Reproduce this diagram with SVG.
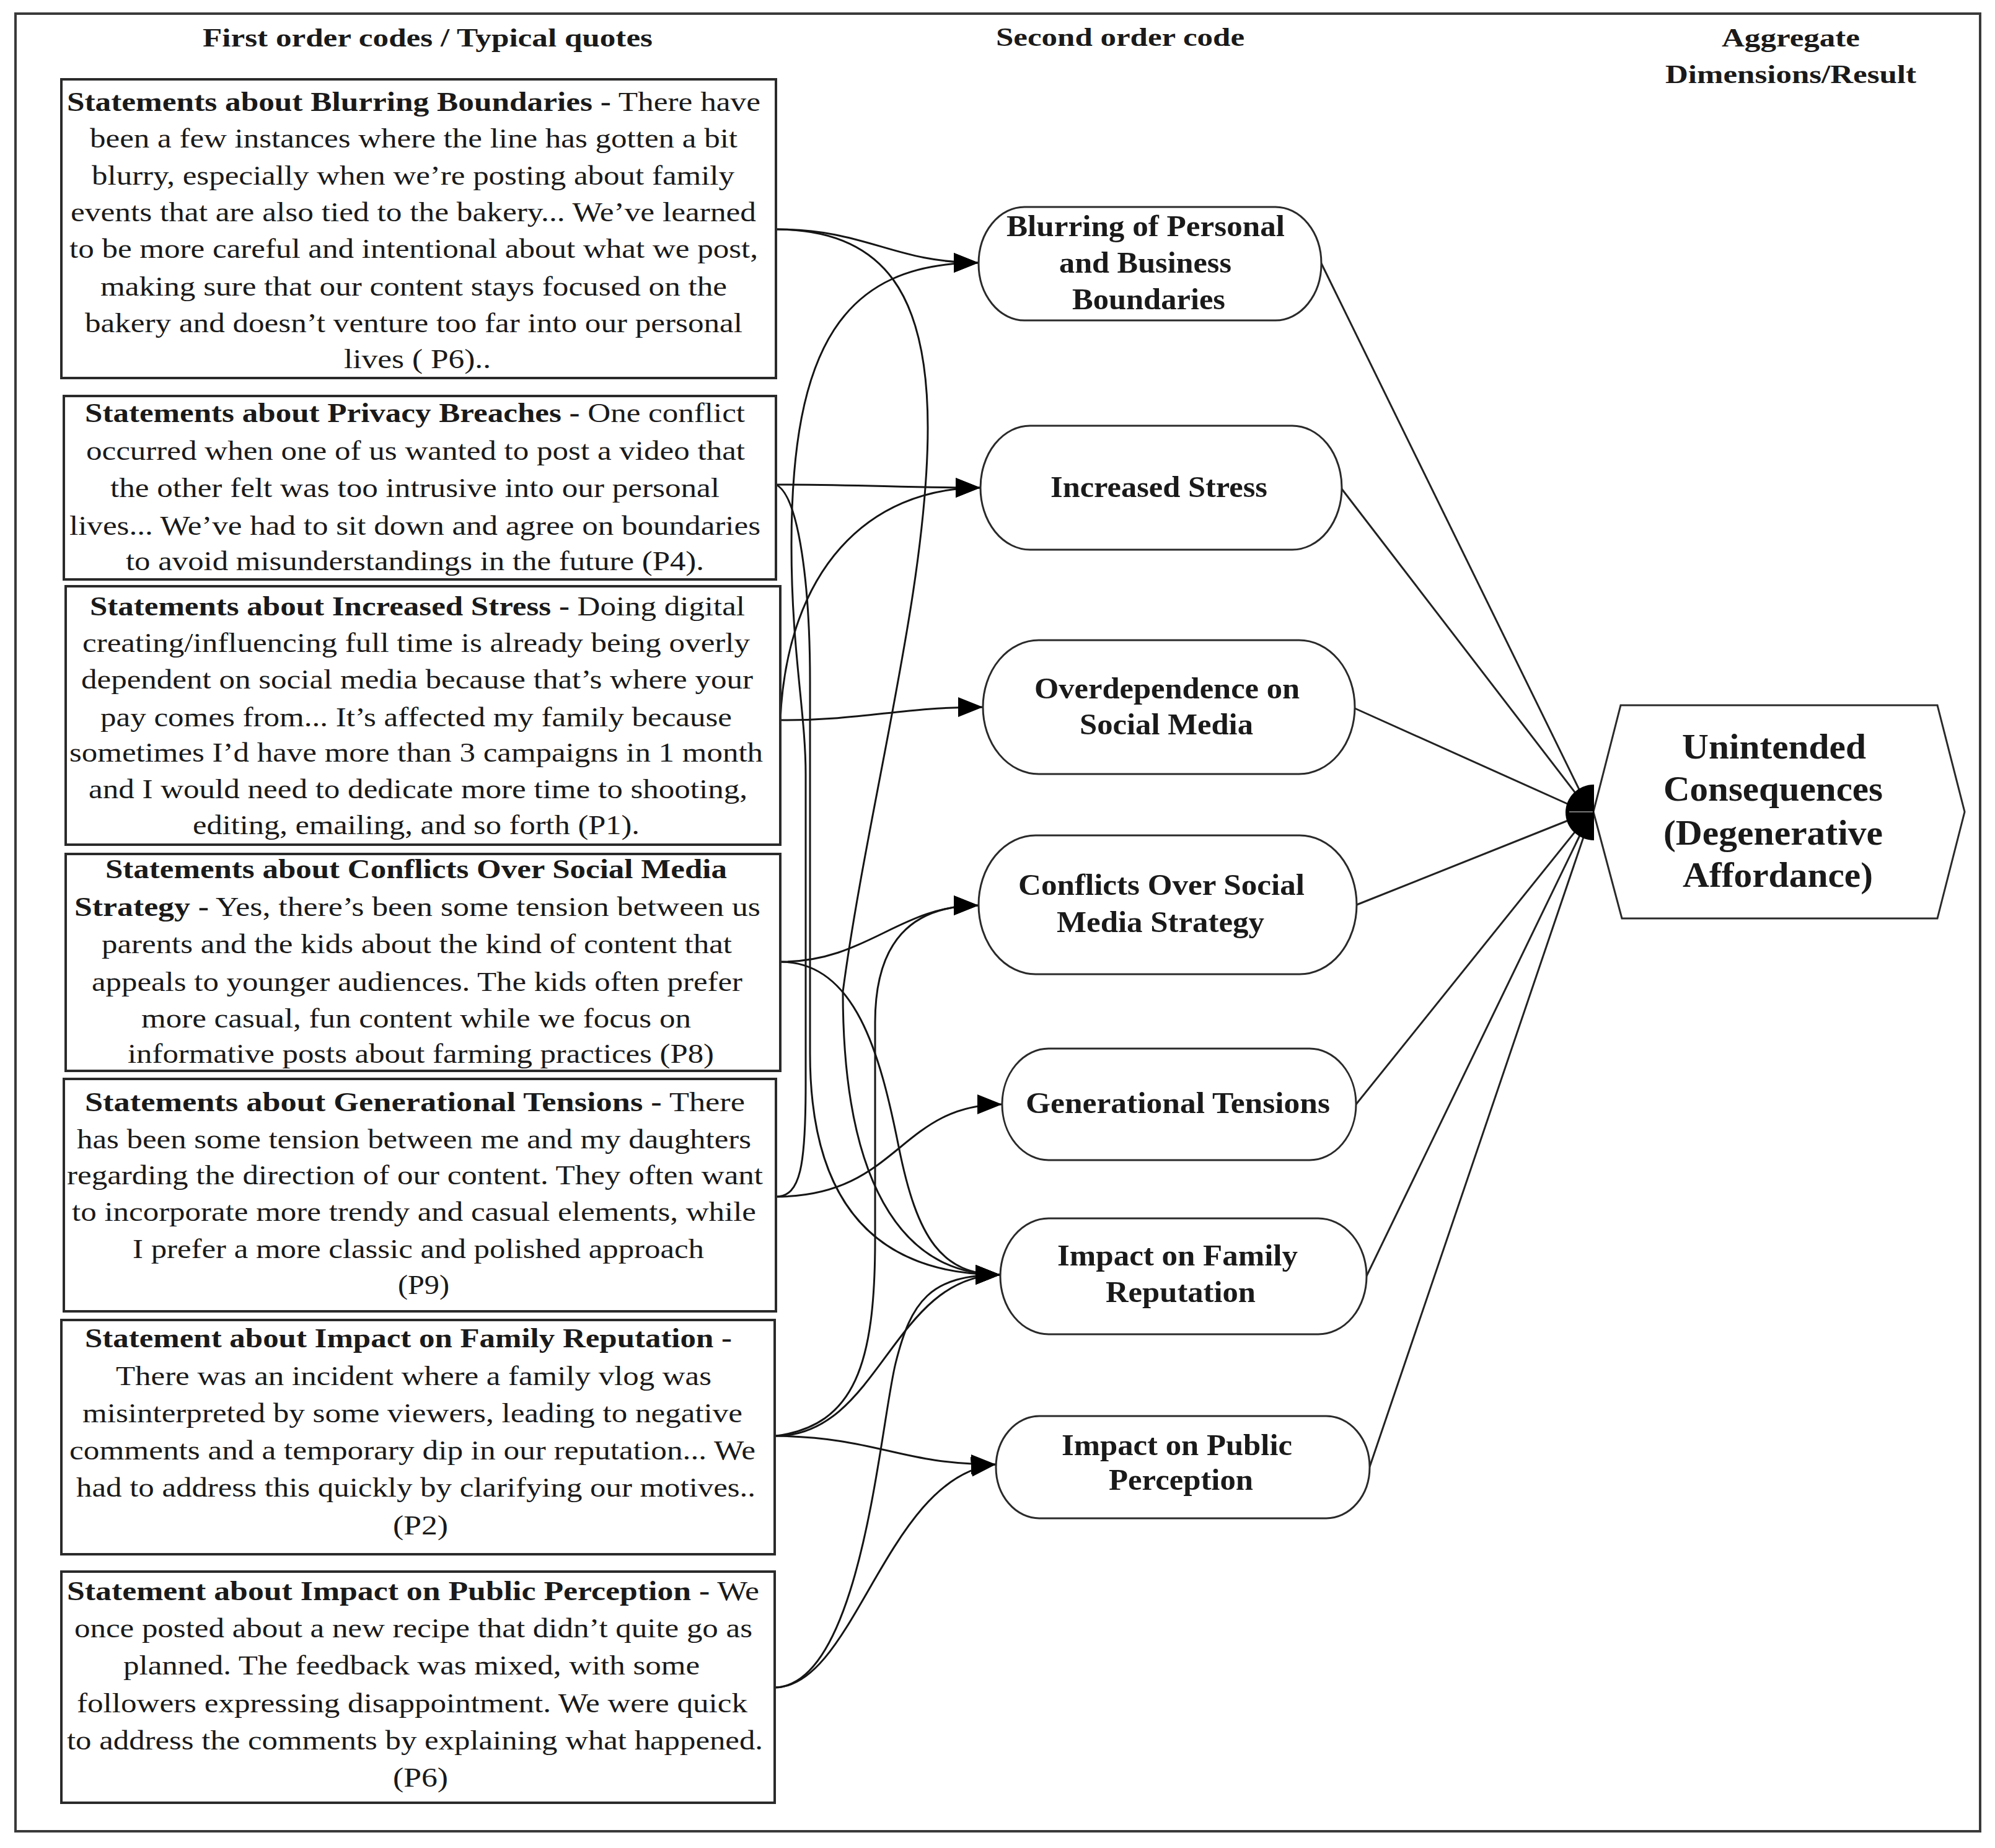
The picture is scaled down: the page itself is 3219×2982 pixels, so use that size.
<svg xmlns="http://www.w3.org/2000/svg" width="3219" height="2982" viewBox="0 0 3219 2982">
<defs>
<style>
.frame{fill:none;stroke:#3a3a3a;stroke-width:4}
.box rect{fill:#fff;stroke:#2a2a2a;stroke-width:4}
.t{font-family:"Liberation Serif","Times New Roman",serif;font-size:44px;fill:#1a1a1a}
.b{font-weight:bold}
.hd{font-family:"Liberation Serif","Times New Roman",serif;font-size:42px;font-weight:bold;fill:#1a1a1a}
.node rect{fill:#fff;stroke:#2a2a2a;stroke-width:3}
.nt{font-family:"Liberation Serif","Times New Roman",serif;font-size:48px;font-weight:bold;fill:#1a1a1a}
.ht{font-family:"Liberation Serif","Times New Roman",serif;font-size:58px;font-weight:bold;fill:#1a1a1a}
.edge{fill:none;stroke:#151515;stroke-width:3}
.link{fill:none;stroke:#222;stroke-width:3}
</style>
<marker id="arr" markerUnits="userSpaceOnUse" markerWidth="40" markerHeight="32" refX="40" refY="16" orient="auto">
<path d="M0,0 L40,16 L0,32 Z" fill="#000"/>
</marker>
</defs>
<rect width="3219" height="2982" fill="#fff"/>
<rect class="frame" x="25" y="22" width="3170" height="2933"/>

<g id="headers">
<text class="hd" x="327" y="75" textLength="726" lengthAdjust="spacingAndGlyphs">First order codes / Typical quotes</text>
<text class="hd" x="1607" y="74" textLength="401" lengthAdjust="spacingAndGlyphs">Second order code</text>
<text class="hd" x="2778" y="75" textLength="223" lengthAdjust="spacingAndGlyphs">Aggregate</text>
<text class="hd" x="2687" y="134" textLength="405" lengthAdjust="spacingAndGlyphs">Dimensions/Result</text>
</g>

<g id="connectors">
<path class="edge" marker-end="url(#arr)" d="M1252,370 C1400,370 1440,424 1579,424"/>
<path class="edge" marker-end="url(#arr)" d="M1252,370 C1430,370 1497,480 1497,690 C1497,950 1400,1300 1360,1600 C1360,1900 1450,2057 1614,2057"/>
<path class="edge" marker-end="url(#arr)" d="M1252,782 C1400,782 1450,787 1582,787"/>
<path class="edge" marker-end="url(#arr)" d="M1252,782 C1290,800 1307,950 1307,1100 L1307,1700 C1307,1950 1420,2057 1614,2057"/>
<path class="edge" marker-end="url(#arr)" d="M1259,1162 C1400,1162 1450,1141 1586,1141"/>
<path class="edge" marker-end="url(#arr)" d="M1259,1162 C1270,920 1400,787 1582,787"/>
<path class="edge" marker-end="url(#arr)" d="M1259,1552 C1400,1552 1450,1461 1579,1461"/>
<path class="edge" marker-end="url(#arr)" d="M1259,1552 C1380,1552 1420,1700 1450,1850 C1480,2000 1520,2057 1614,2057"/>
<path class="edge" marker-end="url(#arr)" d="M1252,1931 C1450,1931 1450,1782 1617,1782"/>
<path class="edge" marker-end="url(#arr)" d="M1252,1931 C1292,1931 1300,1880 1300,1750 L1300,1250 C1300,1150 1277,1050 1277,880 C1277,560 1360,424 1579,424"/>
<path class="edge" marker-end="url(#arr)" d="M1252,2317 C1420,2317 1440,2057 1614,2057"/>
<path class="edge" marker-end="url(#arr)" d="M1252,2317 C1420,2320 1450,2363 1607,2363"/>
<path class="edge" marker-end="url(#arr)" d="M1252,2317 C1380,2300 1412,2200 1412,2000 L1412,1650 C1412,1520 1470,1461 1579,1461"/>
<path class="edge" marker-end="url(#arr)" d="M1250,2723 C1380,2723 1430,2380 1607,2363"/>
<path class="edge" marker-end="url(#arr)" d="M1250,2723 C1390,2720 1420,2300 1445,2200 C1470,2100 1500,2057 1614,2057"/>
<path class="link" d="M2132,425 L2552,1282"/>
<path class="link" d="M2165,789 L2550,1290"/>
<path class="link" d="M2186,1143 L2540,1302"/>
<path class="link" d="M2189,1460 L2540,1320"/>
<path class="link" d="M2188,1782 L2548,1334"/>
<path class="link" d="M2205,2059 L2552,1342"/>
<path class="link" d="M2210,2367 L2556,1348"/>
</g>

<g id="box1" class="box">
<rect x="99" y="128" width="1153" height="482"/>
<text class="t" x="108" y="179" textLength="1119" lengthAdjust="spacingAndGlyphs"><tspan class="b">Statements about Blurring Boundaries -</tspan> There have</text>
<text class="t" x="145" y="238" textLength="1045" lengthAdjust="spacingAndGlyphs">been a few instances where the line has gotten a bit</text>
<text class="t" x="148" y="298" textLength="1037" lengthAdjust="spacingAndGlyphs">blurry, especially when we’re posting about family</text>
<text class="t" x="114" y="357" textLength="1106" lengthAdjust="spacingAndGlyphs">events that are also tied to the bakery... We’ve learned</text>
<text class="t" x="112" y="416" textLength="1111" lengthAdjust="spacingAndGlyphs">to be more careful and intentional about what we post,</text>
<text class="t" x="162" y="477" textLength="1011" lengthAdjust="spacingAndGlyphs">making sure that our content stays focused on the</text>
<text class="t" x="137" y="536" textLength="1061" lengthAdjust="spacingAndGlyphs">bakery and doesn’t venture too far into our personal</text>
<text class="t" x="555" y="594" textLength="237" lengthAdjust="spacingAndGlyphs">lives ( P6)..</text>
</g>

<g id="box2" class="box">
<rect x="103" y="639" width="1149" height="296"/>
<text class="t" x="137" y="681" textLength="1065" lengthAdjust="spacingAndGlyphs"><tspan class="b">Statements about Privacy Breaches -</tspan> One conflict</text>
<text class="t" x="139" y="742" textLength="1063" lengthAdjust="spacingAndGlyphs">occurred when one of us wanted to post a video that</text>
<text class="t" x="178" y="802" textLength="983" lengthAdjust="spacingAndGlyphs">the other felt was too intrusive into our personal</text>
<text class="t" x="112" y="863" textLength="1115" lengthAdjust="spacingAndGlyphs">lives... We’ve had to sit down and agree on boundaries</text>
<text class="t" x="203" y="920" textLength="933" lengthAdjust="spacingAndGlyphs">to avoid misunderstandings in the future (P4).</text>
</g>

<g id="box3" class="box">
<rect x="106" y="946" width="1153" height="417"/>
<text class="t" x="145" y="993" textLength="1057" lengthAdjust="spacingAndGlyphs"><tspan class="b">Statements about Increased Stress -</tspan> Doing digital</text>
<text class="t" x="133" y="1052" textLength="1077" lengthAdjust="spacingAndGlyphs">creating/influencing full time is already being overly</text>
<text class="t" x="131" y="1111" textLength="1084" lengthAdjust="spacingAndGlyphs">dependent on social media because that’s where your</text>
<text class="t" x="162" y="1172" textLength="1019" lengthAdjust="spacingAndGlyphs">pay comes from... It’s affected my family because</text>
<text class="t" x="112" y="1229" textLength="1119" lengthAdjust="spacingAndGlyphs">sometimes I’d have more than 3 campaigns in 1 month</text>
<text class="t" x="143" y="1288" textLength="1063" lengthAdjust="spacingAndGlyphs">and I would need to dedicate more time to shooting,</text>
<text class="t" x="311" y="1346" textLength="721" lengthAdjust="spacingAndGlyphs">editing, emailing, and so forth (P1).</text>
</g>

<g id="box4" class="box">
<rect x="106" y="1378" width="1153" height="350"/>
<text class="t b" x="170" y="1417" textLength="1003" lengthAdjust="spacingAndGlyphs">Statements about Conflicts Over Social Media</text>
<text class="t" x="120" y="1478" textLength="1107" lengthAdjust="spacingAndGlyphs"><tspan class="b">Strategy -</tspan>  Yes, there’s been some tension between us</text>
<text class="t" x="164" y="1538" textLength="1017" lengthAdjust="spacingAndGlyphs">parents and the kids about the kind of content that</text>
<text class="t" x="148" y="1599" textLength="1050" lengthAdjust="spacingAndGlyphs">appeals to younger audiences. The kids often prefer</text>
<text class="t" x="228" y="1658" textLength="887" lengthAdjust="spacingAndGlyphs">more casual, fun content while we focus on</text>
<text class="t" x="206" y="1715" textLength="946" lengthAdjust="spacingAndGlyphs">informative posts about farming practices (P8)</text>
</g>

<g id="box5" class="box">
<rect x="103" y="1741" width="1149" height="375"/>
<text class="t" x="137" y="1793" textLength="1065" lengthAdjust="spacingAndGlyphs"><tspan class="b">Statements about Generational Tensions  -</tspan>  There</text>
<text class="t" x="124" y="1853" textLength="1088" lengthAdjust="spacingAndGlyphs">has been some tension between me and my daughters</text>
<text class="t" x="108" y="1911" textLength="1123" lengthAdjust="spacingAndGlyphs">regarding the direction of our content. They often want</text>
<text class="t" x="116" y="1970" textLength="1104" lengthAdjust="spacingAndGlyphs">to incorporate more trendy and casual elements, while</text>
<text class="t" x="214" y="2030" textLength="922" lengthAdjust="spacingAndGlyphs">I prefer a more classic and polished approach</text>
<text class="t" x="642" y="2088" textLength="83" lengthAdjust="spacingAndGlyphs">(P9)</text>
</g>

<g id="box6" class="box">
<rect x="99" y="2130" width="1151" height="378"/>
<text class="t b" x="137" y="2174" textLength="1044" lengthAdjust="spacingAndGlyphs">Statement about Impact on Family Reputation -</text>
<text class="t" x="187" y="2235" textLength="961" lengthAdjust="spacingAndGlyphs">There was an incident where a family vlog was</text>
<text class="t" x="133" y="2295" textLength="1065" lengthAdjust="spacingAndGlyphs">misinterpreted by some viewers, leading to negative</text>
<text class="t" x="112" y="2355" textLength="1107" lengthAdjust="spacingAndGlyphs">comments and a temporary dip in our reputation... We</text>
<text class="t" x="123" y="2415" textLength="1096" lengthAdjust="spacingAndGlyphs">had to address this quickly by clarifying our motives..</text>
<text class="t" x="634" y="2476" textLength="89" lengthAdjust="spacingAndGlyphs">(P2)</text>
</g>

<g id="box7" class="box">
<rect x="99" y="2536" width="1151" height="373"/>
<text class="t" x="108" y="2582" textLength="1117" lengthAdjust="spacingAndGlyphs"><tspan class="b">Statement about Impact on Public Perception -</tspan>  We</text>
<text class="t" x="120" y="2642" textLength="1094" lengthAdjust="spacingAndGlyphs">once posted about a new recipe that didn’t quite go as</text>
<text class="t" x="199" y="2702" textLength="930" lengthAdjust="spacingAndGlyphs">planned. The feedback was mixed, with some</text>
<text class="t" x="124" y="2763" textLength="1082" lengthAdjust="spacingAndGlyphs">followers expressing disappointment. We were quick</text>
<text class="t" x="108" y="2823" textLength="1123" lengthAdjust="spacingAndGlyphs">to address the comments by explaining what happened.</text>
<text class="t" x="634" y="2883" textLength="89" lengthAdjust="spacingAndGlyphs">(P6)</text>
</g>

<g id="n1" class="node">
<rect x="1579" y="334" width="553" height="183" rx="74" ry="91.5"/>
<text class="nt" x="1624" y="381" textLength="449" lengthAdjust="spacingAndGlyphs">Blurring of Personal</text>
<text class="nt" x="1709" y="440" textLength="278" lengthAdjust="spacingAndGlyphs">and Business</text>
<text class="nt" x="1730" y="499" textLength="247" lengthAdjust="spacingAndGlyphs">Boundaries</text>
</g>
<g id="n2" class="node">
<rect x="1582" y="687" width="583" height="200" rx="80" ry="100"/>
<text class="nt" x="1695" y="802" textLength="350" lengthAdjust="spacingAndGlyphs">Increased Stress</text>
</g>
<g id="n3" class="node">
<rect x="1586" y="1033" width="600" height="216" rx="90" ry="108"/>
<text class="nt" x="1669" y="1127" textLength="428" lengthAdjust="spacingAndGlyphs">Overdependence on</text>
<text class="nt" x="1742" y="1185" textLength="280" lengthAdjust="spacingAndGlyphs">Social Media</text>
</g>
<g id="n4" class="node">
<rect x="1579" y="1348" width="610" height="224" rx="92" ry="112"/>
<text class="nt" x="1643" y="1444" textLength="462" lengthAdjust="spacingAndGlyphs">Conflicts Over Social</text>
<text class="nt" x="1705" y="1504" textLength="335" lengthAdjust="spacingAndGlyphs">Media Strategy</text>
</g>
<g id="n5" class="node">
<rect x="1617" y="1692" width="571" height="180" rx="75" ry="90"/>
<text class="nt" x="1655" y="1796" textLength="491" lengthAdjust="spacingAndGlyphs">Generational Tensions</text>
</g>
<g id="n6" class="node">
<rect x="1614" y="1966" width="591" height="187" rx="78" ry="93.5"/>
<text class="nt" x="1706" y="2042" textLength="388" lengthAdjust="spacingAndGlyphs">Impact on Family</text>
<text class="nt" x="1784" y="2101" textLength="242" lengthAdjust="spacingAndGlyphs">Reputation</text>
</g>
<g id="n7" class="node">
<rect x="1607" y="2285" width="603" height="165" rx="70" ry="82.5"/>
<text class="nt" x="1713" y="2348" textLength="372" lengthAdjust="spacingAndGlyphs">Impact on Public</text>
<text class="nt" x="1789" y="2404" textLength="233" lengthAdjust="spacingAndGlyphs">Perception</text>
</g>

<g id="result">
<polygon points="2571,1310 2615,1138 3126,1138 3170,1310 3126,1482 2617,1482" fill="#fff" stroke="#2a2a2a" stroke-width="3"/>
<path d="M2572,1266 A46 45 0 0 0 2572,1356 Z" fill="#000"/>
<line x1="2532" y1="1310" x2="2570" y2="1310" stroke="#777" stroke-width="2"/>
<text class="ht" x="2714" y="1224" textLength="297" lengthAdjust="spacingAndGlyphs">Unintended</text>
<text class="ht" x="2684" y="1292" textLength="354" lengthAdjust="spacingAndGlyphs">Consequences</text>
<text class="ht" x="2684" y="1363" textLength="354" lengthAdjust="spacingAndGlyphs">(Degenerative</text>
<text class="ht" x="2715" y="1431" textLength="307" lengthAdjust="spacingAndGlyphs">Affordance)</text>
</g>
</svg>
